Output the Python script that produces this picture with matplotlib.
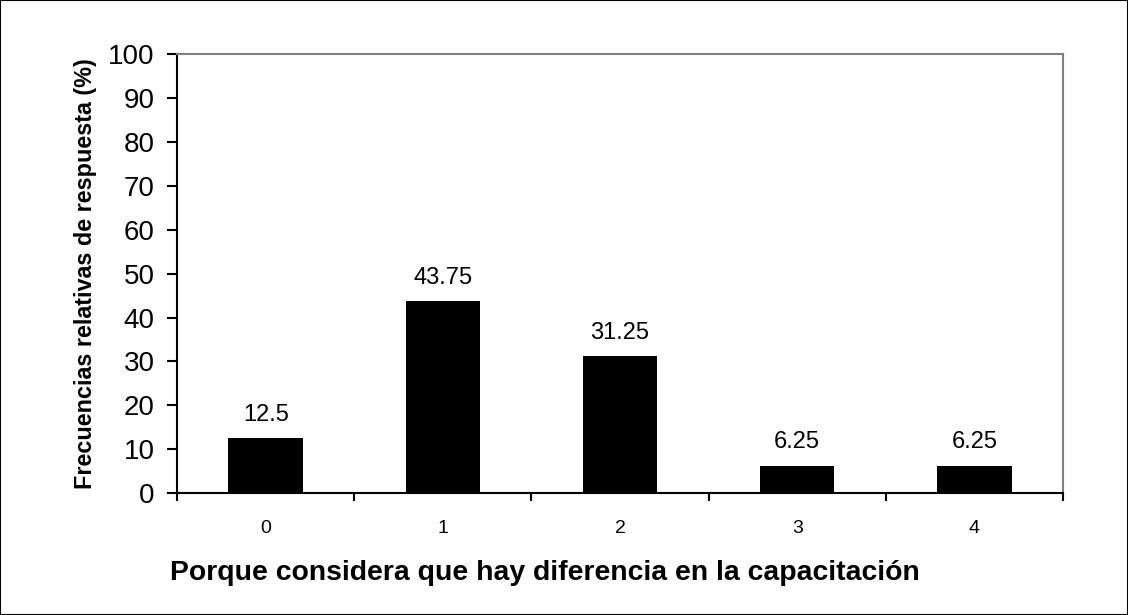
import matplotlib.pyplot as plt
import numpy as np
from matplotlib.patches import Rectangle

categories = ['0', '1', '2', '3', '4']
values = [12.5, 43.75, 31.25, 6.25, 6.25]
value_labels = ['12.5', '43.75', '31.25', '6.25', '6.25']

plt.rcParams['font.family'] = ['Liberation Sans', 'DejaVu Sans']

fig = plt.figure(figsize=(11.28, 6.15), dpi=100)
ax = fig.add_axes([0.157, 0.198, 0.7854, 0.714])

x = np.arange(len(categories))
ax.bar(x, values, width=0.42, color='black')
for xi, v, lab in zip(x, values, value_labels):
    ax.annotate(lab, (xi, v), xytext=(0, 9), textcoords='offset points',
                ha='center', va='bottom', fontsize=17)

ax.set_xlim(-0.5, len(categories) - 0.5)
ax.set_ylim(0, 100)
ax.set_yticks(np.arange(0, 101, 10))
ax.tick_params(axis='y', labelsize=20, length=7, width=1.5, direction='out', pad=9)

ax.set_xticks(x)
ax.set_xticklabels(categories)
ax.set_xticks(np.arange(-0.5, len(categories), 1), minor=True)
ax.tick_params(axis='x', which='major', length=0, labelsize=14, pad=19)
ax.tick_params(axis='x', which='minor', length=6, width=1.5, direction='out')

for s in ['left', 'bottom']:
    ax.spines[s].set_linewidth(1.5)
    ax.spines[s].set_color('black')
for s in ['top', 'right']:
    ax.spines[s].set_linewidth(1.5)
    ax.spines[s].set_color('#808080')

ax.set_ylabel('Frecuencias relativas de respuesta (%)', fontsize=16.8, fontweight='bold', labelpad=8)
ax.set_xlabel('Porque considera que hay diferencia en la capacitación', fontsize=20.4,
              fontweight='bold')
ax.xaxis.set_label_coords(0.415, -0.152)

fig.patches.append(Rectangle((0, 0), 1, 1, transform=fig.transFigure, fill=False,
                             edgecolor='black', linewidth=1.5))

fig.savefig('out.png', dpi=100)
